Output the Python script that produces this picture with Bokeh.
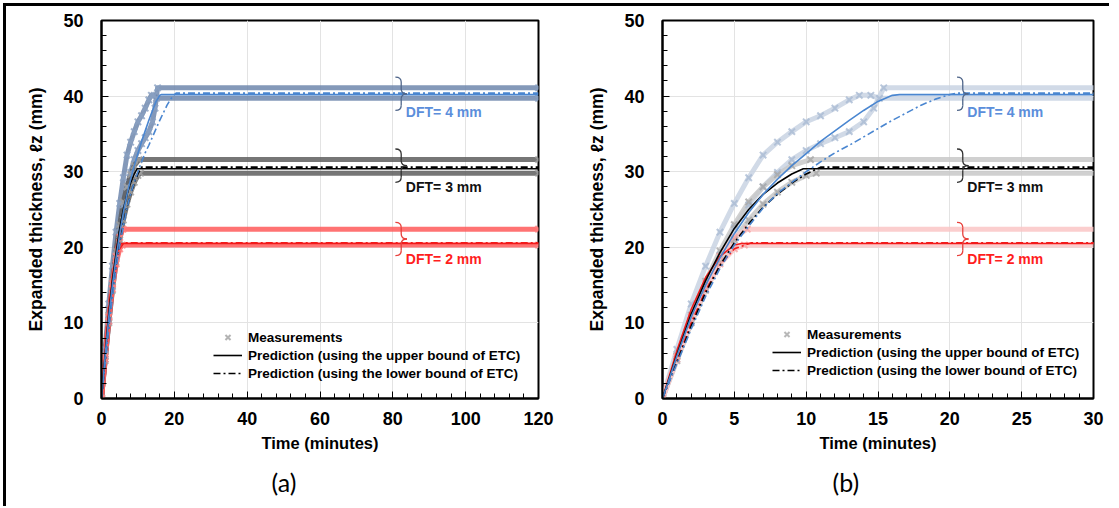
from bokeh.plotting import figure
from bokeh.layouts import row
from bokeh.models import Range1d, FixedTicker, Legend, LegendItem, Title
from bokeh.embed import file_html
from bokeh.resources import INLINE
from bokeh.core.properties import value

# ---------------- data: time (minutes) / expanded thickness (mm) ----------------
# DFT = 4 mm
meas4_a_t = [0, 1, 2, 3, 4, 5, 6, 7, 8, 9, 10, 11, 12, 13, 13.7, 14.5, 15.1, 120]
meas4_a_y = [0, 6.5, 12.5, 17.5, 22.0, 25.8, 29.2, 32.2, 33.9, 35.3, 36.6, 37.4, 38.4, 39.5, 40.1, 40.1, 39.7, 39.7]
meas4_b_t = [0, 1, 2, 3, 4, 5, 6, 7, 8, 9, 10, 11, 12, 13, 14, 14.7, 15.4, 120]
meas4_b_y = [0, 5.2, 10.2, 14.8, 19.0, 22.6, 25.6, 28.0, 29.9, 31.6, 32.8, 33.7, 34.5, 35.3, 36.6, 38.4, 41.1, 41.1]
pred4_up_t = [0, 1, 2, 3, 4, 5, 6, 7, 8, 9, 10, 11, 12, 13, 14, 15, 16, 16.5, 120]
pred4_up_y = [0, 5.6, 10.8, 15.0, 18.6, 21.8, 24.6, 27.0, 29.0, 30.8, 32.4, 34.0, 35.4, 36.8, 38.1, 39.3, 40.1, 40.2, 40.2]
pred4_lo_t = [0, 1, 2, 3, 4, 5, 6, 7, 8, 9, 10, 11, 12, 13, 14, 15, 16, 17, 18, 19, 20, 20.5, 120]
pred4_lo_y = [0, 4.6, 9.2, 13.5, 17.2, 20.3, 22.8, 25.2, 27.1, 28.6, 30.0, 31.3, 32.5, 33.5, 34.6, 35.7, 36.8, 37.8, 38.8, 39.6, 40.2, 40.4, 40.4]

# DFT = 3 mm
meas3_a_t = [0, 1, 2, 3, 4, 5, 6, 7, 8, 9, 10.3, 120]
meas3_a_y = [0, 5.6, 11.0, 15.5, 19.5, 23.0, 26.0, 28.0, 29.6, 30.8, 31.6, 31.6]
meas3_b_t = [0, 1, 2, 3, 4, 5, 6, 7, 8, 9, 10, 10.7, 120]
meas3_b_y = [0, 5.0, 10.0, 14.3, 18.0, 21.0, 23.6, 25.7, 27.3, 28.6, 29.5, 29.8, 29.8]
pred3_up_t = [0, 1, 2, 3, 4, 5, 6, 7, 8, 9, 9.8, 120]
pred3_up_y = [0, 5.8, 11.2, 15.6, 19.3, 22.5, 25.0, 27.0, 28.5, 29.7, 30.4, 30.4]
pred3_lo_t = [0, 1, 2, 3, 4, 5, 6, 7, 8, 9, 10, 11, 120]
pred3_lo_y = [0, 4.8, 9.6, 14.0, 17.6, 20.6, 23.1, 25.3, 27.0, 28.5, 29.7, 30.6, 30.6]

# DFT = 2 mm
meas2_a_t = [0, 1, 2, 3, 4, 5, 5.9, 120]
meas2_a_y = [0, 5.5, 10.8, 15.2, 18.8, 21.3, 22.4, 22.4]
meas2_b_t = [0, 1, 2, 3, 4, 5, 5.7, 120]
meas2_b_y = [0, 5.2, 10.2, 14.5, 17.8, 19.8, 20.3, 20.3]
pred2_up_t = [0, 1, 2, 3, 4, 5, 5.5, 120]
pred2_up_y = [0, 6.3, 11.8, 16.0, 18.8, 20.3, 20.5, 20.5]
pred2_lo_t = [0, 1, 2, 3, 4, 5, 6.2, 120]
pred2_lo_y = [0, 5.0, 10.0, 14.3, 17.6, 19.8, 20.6, 20.6]

# group annotations
dft_labels = ["DFT= 4 mm", "DFT= 3 mm", "DFT= 2 mm"]
brace_centers = [40.3, 30.8, 21.1]
label_centers = [37.9, 28.0, 18.4]

legend_labels = ["Measurements",
                 "Prediction (using the upper bound of ETC)",
                 "Prediction (using the lower bound of ETC)"]
panel_tags = ["(a)", "(b)"]

# ---------------- styling ----------------
FONT = "Liberation Sans"
BLUE = "#4A86D0"
RED = "#F21B1B"
BLACK = "#000000"
DASHDOT = "7 3 2 3"


def make_panel(xmax, xstep, xminor, tag, band_cols, mark_cols, brace_x, brace_w,
               ml, mr, fw, legend_loc):
    p = figure(frame_width=fw, frame_height=378,
               x_range=Range1d(0, xmax), y_range=Range1d(0, 50),
               output_backend="svg", toolbar_location=None,
               min_border_left=ml, min_border_right=mr,
               min_border_top=14, min_border_bottom=96,
               background_fill_color="white", border_fill_color="white")
    p.outline_line_color = "black"
    p.outline_line_width = 2

    p.xaxis.ticker = FixedTicker(ticks=list(range(0, xmax + 1, xstep)),
                                 minor_ticks=list(range(0, xmax + 1, xminor)))
    p.yaxis.ticker = FixedTicker(ticks=list(range(0, 51, 10)),
                                 minor_ticks=list(range(0, 51, 2)))
    for ax in (p.xaxis[0], p.yaxis[0]):
        ax.axis_line_width = 2
        ax.axis_line_color = "black"
        ax.major_tick_in = 7
        ax.major_tick_out = 0
        ax.minor_tick_in = 5
        ax.minor_tick_out = 0
        ax.major_tick_line_color = "black"
        ax.minor_tick_line_color = "black"
        ax.major_label_text_font = FONT
        ax.major_label_text_font_style = "bold"
        ax.major_label_text_font_size = "18px"
        ax.major_label_text_color = "black"
        ax.axis_label_text_font = FONT
        ax.axis_label_text_font_style = "bold"
        ax.axis_label_text_color = "black"
    p.xaxis.axis_label_text_font_size = "16.5px"
    p.yaxis.axis_label_text_font_size = "17.5px"
    p.xaxis.major_label_standoff = 13
    p.yaxis.major_label_standoff = 18
    p.xaxis.axis_label = "Time (minutes)"
    p.xaxis.axis_label_standoff = 6
    p.yaxis.axis_label = "Expanded thickness, \u2113z (mm)"
    p.yaxis.axis_label_standoff = 14
    p.grid.grid_line_color = "#E3E3E3"
    p.grid.grid_line_width = 1

    # measurements (dense markers -> thick translucent bands + x marks)
    meas = [(meas4_a_t, meas4_a_y, 0), (meas4_b_t, meas4_b_y, 0),
            (meas3_a_t, meas3_a_y, 1), (meas3_b_t, meas3_b_y, 1),
            (meas2_a_t, meas2_a_y, 2), (meas2_b_t, meas2_b_y, 2)]
    mark_renderers = []
    for t, y, k in meas:
        p.line(t, y, line_color=band_cols[k], line_width=5, line_alpha=0.85,
               line_join="round")
    for t, y, k in meas:
        mark_renderers.append(p.scatter(t, y, marker="x", size=9, line_width=2,
                                        line_color=mark_cols[k], line_alpha=0.8))

    preds = [(pred2_up_t, pred2_up_y, RED, "solid"), (pred2_lo_t, pred2_lo_y, RED, DASHDOT),
             (pred3_up_t, pred3_up_y, BLACK, "solid"), (pred3_lo_t, pred3_lo_y, BLACK, DASHDOT),
             (pred4_up_t, pred4_up_y, BLUE, "solid"), (pred4_lo_t, pred4_lo_y, BLUE, DASHDOT)]
    pred_renderers = []
    for t, y, c, d in preds:
        pred_renderers.append(p.line(t, y, line_color=c, line_width=1.6, line_dash=d))

    # braces and group labels
    brace_cols = ["#50668A", "#333333", "#E8413C"]
    text_cols = ["#5B8EDB", "#111111", "#FF1E1E"]
    h, r = 2.2, 0.65
    xm = brace_x + brace_w / 2
    xt = brace_x + brace_w
    for yc, ly, bc, tc, lab in zip(brace_centers, label_centers, brace_cols, text_cols, dft_labels):
        p.quadratic(x0=[brace_x, xm, xm, brace_x], y0=[yc + h, yc + r, yc - r, yc - h],
                    x1=[xm, xt, xt, xm], y1=[yc + h - r, yc, yc, yc - h + r],
                    cx=[xm, xm, xm, xm], cy=[yc + h, yc, yc, yc - h],
                    line_color=bc, line_width=1.3)
        p.segment(x0=[xm, xm], y0=[yc + h - r, yc - r], x1=[xm, xm], y1=[yc + r, yc - h + r],
                  line_color=bc, line_width=1.3)
        p.text(x=[xt - brace_w * 0.1], y=[ly], text=[lab], text_font=value(FONT),
               text_font_style="bold", text_font_size="14px", text_color=tc,
               text_baseline="middle", text_align="left")

    # legend
    leg = Legend(items=[LegendItem(label=legend_labels[0], renderers=[mark_renderers[2]]),
                        LegendItem(label=legend_labels[1], renderers=[pred_renderers[2]]),
                        LegendItem(label=legend_labels[2], renderers=[pred_renderers[3]])],
                 location=legend_loc, background_fill_alpha=0, border_line_alpha=0,
                 padding=0, margin=0, spacing=0, glyph_height=18, label_height=18,
                 glyph_width=29, label_standoff=6,
                 label_text_font=FONT, label_text_font_style="bold",
                 label_text_font_size="13.5px", label_text_color="black")
    p.add_layout(leg, "center")

    p.add_layout(Title(text=tag, align="left", offset=170, text_font="Lato",
                       text_font_style="normal", text_font_size="25px",
                       text_color="black", standoff=20), "below")
    return p


p1 = make_panel(120, 20, 4, panel_tags[0], ["#6F87AD", "#5E5E5E", "#FF5A5A"],
                ["#8AA0C2", "#A0A0A0", "#FF8080"], 80.7, 3.2, 95, 40, 437, (112, 16))
p2 = make_panel(30, 5, 1, panel_tags[1], ["#C9D4E3", "#C8C8C8", "#FAC6C6"],
                ["#A9BAD3", "#A6A6A6", "#F6A3A3"], 20.5, 0.8, 84, 16, 431, (110, 19))

layout = row(p1, p2, styles={"margin": "3px 0 0 3px",
                             "border-top": "3px solid black",
                             "border-left": "3px solid black"})

with open("out.html", "w") as f:
    f.write(file_html(layout, INLINE))
